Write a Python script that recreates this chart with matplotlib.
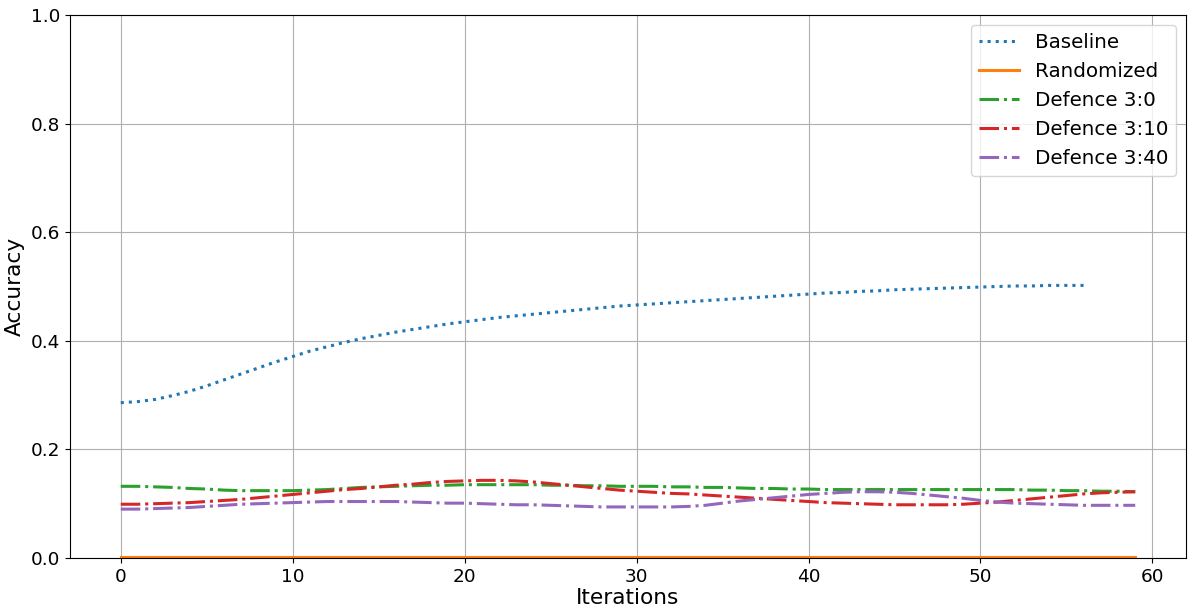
import matplotlib
matplotlib.use('Agg')
import matplotlib.pyplot as plt

# accuracy per iteration
baseline = [0.286, 0.288, 0.292, 0.299, 0.307, 0.317, 0.328, 0.339, 0.350, 0.361,
            0.371, 0.381, 0.389, 0.397, 0.404, 0.410, 0.416, 0.421, 0.426, 0.431,
            0.435, 0.439, 0.443, 0.446, 0.449, 0.452, 0.455, 0.458, 0.461, 0.464,
            0.466, 0.468, 0.470, 0.472, 0.474, 0.476, 0.478, 0.480, 0.482, 0.484,
            0.486, 0.488, 0.489, 0.491, 0.492, 0.494, 0.495, 0.496, 0.497, 0.498,
            0.499, 0.500, 0.501, 0.501, 0.502, 0.502, 0.502]
randomized = [0.002] * 60
defence_3_0 = [0.132, 0.132, 0.131, 0.130, 0.128, 0.127, 0.125, 0.124, 0.124, 0.124,
               0.124, 0.125, 0.126, 0.128, 0.130, 0.131, 0.132, 0.133, 0.134, 0.134,
               0.135, 0.135, 0.135, 0.135, 0.135, 0.134, 0.134, 0.133, 0.133, 0.132,
               0.132, 0.132, 0.131, 0.131, 0.130, 0.130, 0.129, 0.128, 0.128, 0.127,
               0.127, 0.126, 0.126, 0.126, 0.126, 0.126, 0.126, 0.126, 0.126, 0.126,
               0.126, 0.126, 0.126, 0.125, 0.125, 0.124, 0.124, 0.123, 0.123, 0.122]
defence_3_10 = [0.099, 0.099, 0.100, 0.101, 0.102, 0.104, 0.106, 0.108, 0.111, 0.114,
                0.117, 0.120, 0.123, 0.126, 0.128, 0.131, 0.134, 0.136, 0.139, 0.141,
                0.142, 0.143, 0.143, 0.142, 0.140, 0.137, 0.134, 0.131, 0.128, 0.125,
                0.123, 0.121, 0.119, 0.118, 0.116, 0.114, 0.112, 0.110, 0.108, 0.106,
                0.104, 0.102, 0.101, 0.100, 0.099, 0.098, 0.098, 0.098, 0.098, 0.099,
                0.101, 0.103, 0.106, 0.109, 0.112, 0.115, 0.118, 0.120, 0.121, 0.122]
defence_3_40 = [0.090, 0.090, 0.091, 0.092, 0.093, 0.095, 0.097, 0.099, 0.100, 0.101,
                0.102, 0.103, 0.104, 0.104, 0.104, 0.104, 0.104, 0.103, 0.102, 0.101,
                0.101, 0.100, 0.099, 0.098, 0.098, 0.097, 0.096, 0.095, 0.094, 0.094,
                0.094, 0.094, 0.094, 0.095, 0.097, 0.101, 0.105, 0.108, 0.111, 0.114,
                0.117, 0.119, 0.121, 0.122, 0.122, 0.121, 0.119, 0.116, 0.113, 0.110,
                0.106, 0.103, 0.101, 0.100, 0.099, 0.098, 0.097, 0.097, 0.097, 0.097]

series = [
    ('Baseline', baseline, ':'),
    ('Randomized', randomized, '-'),
    ('Defence 3:0', defence_3_0, '-.'),
    ('Defence 3:10', defence_3_10, '-.'),
    ('Defence 3:40', defence_3_40, '-.'),
]

fig = plt.figure(figsize=(11.93, 6.15), dpi=100)
ax = fig.add_subplot(1, 1, 1)
fig.subplots_adjust(left=0.0587, right=0.9941, top=0.9756, bottom=0.0927)

for label, values, style in series:
    ax.plot(range(len(values)), values, linestyle=style, linewidth=2.2, label=label)

ax.set_ylim(0, 1)
ax.set_xlabel('Iterations', fontsize=15.6, labelpad=2)
ax.set_ylabel('Accuracy', fontsize=15.6, labelpad=4)
ax.tick_params(labelsize=13.3)
ax.grid(True)
ax.legend(loc='upper right', fontsize=14.3)

fig.savefig('out.png', dpi=100)
